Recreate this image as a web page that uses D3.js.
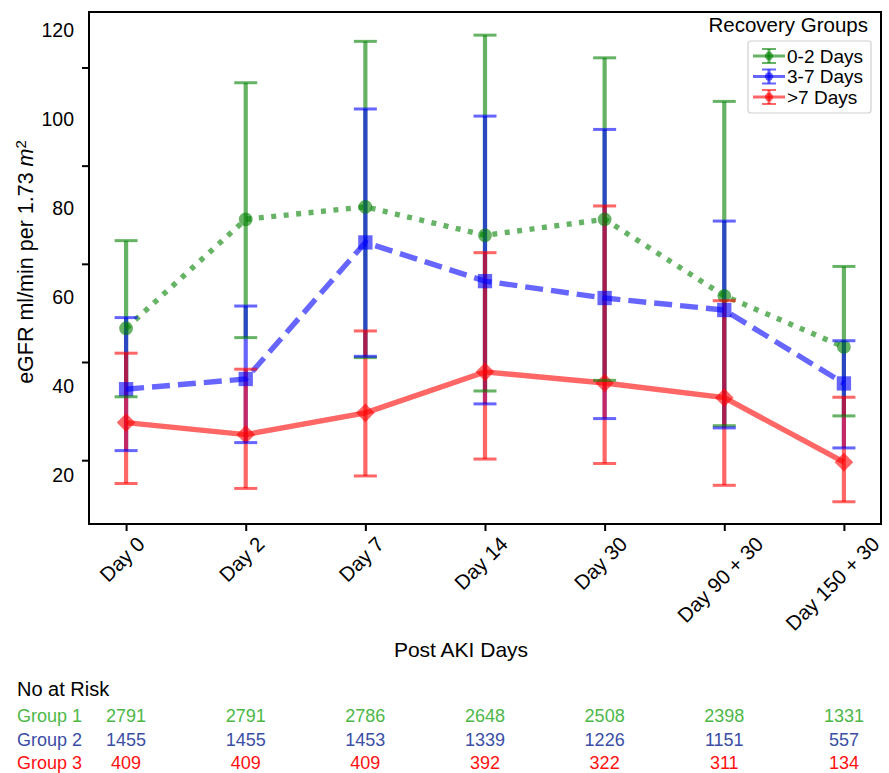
<!DOCTYPE html>
<html>
<head>
<meta charset="utf-8">
<script src="https://cdn.jsdelivr.net/npm/d3@7"></script>
<style>
  body { margin: 0; background: #fff; }
  text { font-family: "Liberation Sans", Arial, Helvetica, sans-serif; }
</style>
</head>
<body>
<div id="chart"></div>
<script>
const days = ["Day 0", "Day 2", "Day 7", "Day 14", "Day 30", "Day 90 + 30", "Day 150 + 30"];

// mean eGFR with lower / upper error bar ends
const group1Mean = [53.0, 77.5, 80.3, 73.9, 77.5, 60.3, 48.8];
const group1Low  = [37.6, 50.9, 46.4, 38.9, 41.3, 31.1, 33.3];
const group1High = [72.7, 108.2, 117.5, 118.9, 113.8, 104.0, 66.9];

const group2Mean = [39.3, 41.6, 72.3, 63.6, 59.8, 57.1, 40.6];
const group2Low  = [25.5, 27.3, 46.7, 36.0, 32.7, 30.6, 26.1];
const group2High = [55.4, 58.0, 102.3, 100.7, 97.7, 77.1, 50.2];

const group3Mean = [31.8, 29.1, 34.0, 43.2, 40.7, 37.4, 22.9];
const group3Low  = [18.1, 17.0, 19.8, 23.6, 22.6, 17.7, 14.0];
const group3High = [47.4, 43.8, 52.4, 70.0, 80.5, 59.2, 37.5];

const atRisk1 = [2791, 2791, 2786, 2648, 2508, 2398, 1331];
const atRisk2 = [1455, 1455, 1453, 1339, 1226, 1151, 557];
const atRisk3 = [409, 409, 409, 392, 322, 311, 134];

const yTickLabels = [20, 40, 60, 80, 100, 120];
const yTickMarks = [20, 40, 60, 80, 100];

const groupNames = ["0-2 Days", "3-7 Days", ">7 Days"];
const rowNames = ["Group 1", "Group 2", "Group 3"];

const width = 889, height = 773;
const plot = {left: 89, right: 881, top: 12, bottom: 524};

const svg = d3.select("#chart")
  .append("svg")
  .attr("width", width)
  .attr("height", height);

const x = d3.scalePoint().domain(days).range([plot.left, plot.right]).padding(0.31);
const y = d3.scaleLinear().domain([9, 124.1]).range([plot.bottom, plot.top]);
// tick marks on the left spine sit on their own spacing in the original
const yMarks = d3.scaleLinear().domain([7, 111.3]).range([plot.bottom, plot.top]);

const groups = [
  {name: groupNames[0], color: "#008000", mean: group1Mean, low: group1Low, high: group1High, dash: "5,7.5", shape: "circle"},
  {name: groupNames[1], color: "#0000ff", mean: group2Mean, low: group2Low, high: group2High, dash: "18,8", shape: "square"},
  {name: groupNames[2], color: "#ff0000", mean: group3Mean, low: group3Low, high: group3High, dash: null, shape: "diamond"}
];

const alpha = 0.6;
const capW = 11.5;

function markerPath(shape) {
  if (shape == "circle") return d3.symbol(d3.symbolCircle, 150)();
  if (shape == "square") return d3.symbol(d3.symbolSquare, 205)();
  return d3.symbol(d3.symbolSquare, 175)();
}

const g = svg.append("g");

// error bars first
groups.forEach(s => {
  g.append("g").selectAll("line")
    .data(days)
    .enter().append("line")
    .attr("x1", d => x(d)).attr("x2", d => x(d))
    .attr("y1", (d, i) => y(s.low[i]))
    .attr("y2", (d, i) => y(s.high[i]))
    .attr("stroke", s.color)
    .attr("stroke-opacity", alpha)
    .attr("stroke-width", 4.2);
});

// mean lines and markers
groups.forEach(s => {
  const line = d3.line().x((d, i) => x(days[i])).y(d => y(d));
  g.append("path")
    .datum(s.mean)
    .attr("d", line)
    .attr("fill", "none")
    .attr("stroke", s.color)
    .attr("stroke-opacity", alpha)
    .attr("stroke-width", 5.4)
    .attr("stroke-dasharray", s.dash);

  g.append("g").selectAll("path")
    .data(s.mean)
    .enter().append("path")
    .attr("d", markerPath(s.shape))
    .attr("transform", (d, i) => `translate(${x(days[i])},${y(d)})` + (s.shape == "diamond" ? " rotate(45)" : ""))
    .attr("fill", s.color)
    .attr("fill-opacity", alpha);
});

// caps on top
groups.forEach(s => {
  ["low", "high"].forEach(k => {
    g.append("g").selectAll("line")
      .data(days)
      .enter().append("line")
      .attr("x1", d => x(d) - capW).attr("x2", d => x(d) + capW)
      .attr("y1", (d, i) => y(s[k][i]))
      .attr("y2", (d, i) => y(s[k][i]))
      .attr("stroke", s.color)
      .attr("stroke-opacity", alpha)
      .attr("stroke-width", 3);
  });
});

// frame
svg.append("rect")
  .attr("x", plot.left).attr("y", plot.top)
  .attr("width", plot.right - plot.left)
  .attr("height", plot.bottom - plot.top)
  .attr("fill", "none")
  .attr("stroke", "#000")
  .attr("stroke-width", 2);

// y axis: tick marks and labels
const yMarkAxis = svg.append("g")
  .attr("transform", `translate(${plot.left},0)`)
  .call(d3.axisLeft(yMarks).tickValues(yTickMarks).tickSize(7).tickFormat(""));
yMarkAxis.select(".domain").remove();
yMarkAxis.selectAll("line").attr("stroke-width", 2);

const yLabelAxis = svg.append("g")
  .attr("transform", `translate(${plot.left},0)`)
  .call(d3.axisLeft(y).tickValues(yTickLabels).tickSize(0).tickPadding(15));
yLabelAxis.select(".domain").remove();
yLabelAxis.selectAll("text")
  .style("font-family", '"Liberation Sans", Arial, sans-serif')
  .style("font-size", "19.5px")
  .attr("fill", "#000");

const yTitle = svg.append("text")
  .attr("transform", "translate(33,262) rotate(-90)")
  .attr("text-anchor", "middle")
  .style("font-size", "21.5px");
yTitle.append("tspan").text("eGFR ml/min per 1.73 ");
yTitle.append("tspan").style("font-style", "italic").text("m");
yTitle.append("tspan").attr("dy", "-0.45em").style("font-size", "15px").text("2");

// x axis
const xAxis = svg.append("g")
  .attr("transform", `translate(0,${plot.bottom})`)
  .call(d3.axisBottom(x).tickSize(7).tickFormat(""));
xAxis.select(".domain").remove();
xAxis.selectAll("line").attr("stroke-width", 2);

const labelTop = plot.bottom + 9;
const xFont = 20.5;
svg.append("g").selectAll("text")
  .data(days)
  .enter().append("text")
  .style("font-size", xFont + "px")
  .attr("text-anchor", "middle")
  .attr("dy", "0.35em")
  .text(d => d)
  .attr("transform", function(d) {
    const len = this.getComputedTextLength();
    const half = (len + xFont) * Math.SQRT1_2 / 2;
    // keep the last, long label inside the page
    const cx = Math.min(x(d) - 4, width - 6 - half);
    return `translate(${cx},${labelTop + half}) rotate(-45)`;
  });

svg.append("text")
  .attr("x", 461).attr("y", 657)
  .attr("text-anchor", "middle")
  .style("font-size", "21px")
  .text("Post AKI Days");

// legend
svg.append("text")
  .attr("x", 868).attr("y", 32)
  .attr("text-anchor", "end")
  .style("font-size", "20.5px")
  .text("Recovery Groups");

const legend = svg.append("g");
legend.append("rect")
  .attr("x", 748).attr("y", 41)
  .attr("width", 123).attr("height", 72)
  .attr("rx", 3)
  .attr("fill", "#fff")
  .attr("stroke", "#d0d0d0")
  .attr("stroke-width", 1.2);

groups.forEach((s, i) => {
  const cy = 56 + i * 20.5;
  const hx = 769;
  const item = legend.append("g");
  item.append("line")
    .attr("x1", hx - 16).attr("x2", hx + 16)
    .attr("y1", cy).attr("y2", cy)
    .attr("stroke", s.color).attr("stroke-opacity", alpha).attr("stroke-width", 3);
  item.append("line")
    .attr("x1", hx).attr("x2", hx)
    .attr("y1", cy - 7).attr("y2", cy + 7)
    .attr("stroke", s.color).attr("stroke-opacity", alpha).attr("stroke-width", 3);
  [cy - 7, cy + 7].forEach(cyCap => {
    item.append("line")
      .attr("x1", hx - 7).attr("x2", hx + 7)
      .attr("y1", cyCap).attr("y2", cyCap)
      .attr("stroke", s.color).attr("stroke-opacity", alpha).attr("stroke-width", 2);
  });
  item.append("path")
    .attr("d", d3.symbol(d3.symbolCircle, 55)())
    .attr("transform", `translate(${hx},${cy})`)
    .attr("fill", s.color).attr("fill-opacity", alpha);
  item.append("text")
    .attr("x", 787).attr("y", cy)
    .attr("dy", "0.35em")
    .style("font-size", "19px")
    .text(s.name);
});

// number at risk table
svg.append("text")
  .attr("x", 17).attr("y", 689)
  .attr("dy", "0.35em")
  .style("font-size", "20px")
  .text("No at Risk");

const riskRows = [atRisk1, atRisk2, atRisk3];
const riskColors = ["#4db848", "#3a4ea6", "#ff1010"];
const rowY = [716, 740, 763];

riskRows.forEach((row, r) => {
  const rg = svg.append("g").attr("fill", riskColors[r]);
  rg.append("text")
    .attr("x", 17).attr("y", rowY[r])
    .attr("dy", "0.35em")
    .style("font-size", "18px")
    .text(rowNames[r]);
  rg.selectAll("text.num")
    .data(row)
    .enter().append("text")
    .attr("class", "num")
    .attr("x", (d, i) => x(days[i]))
    .attr("y", rowY[r])
    .attr("dy", "0.35em")
    .attr("text-anchor", "middle")
    .style("font-size", "18px")
    .text(d => d);
});
</script>
</body>
</html>
